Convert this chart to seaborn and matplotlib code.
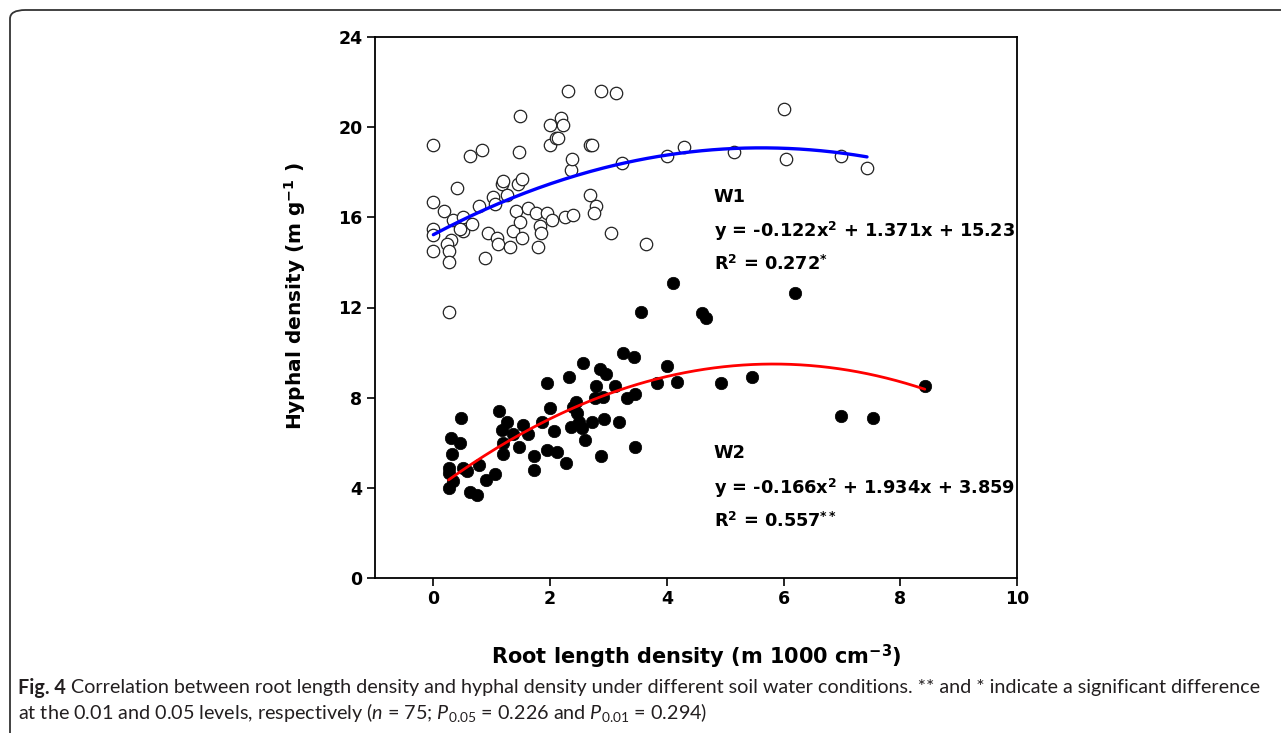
import numpy as np
import pandas as pd
import seaborn as sns
import matplotlib.pyplot as plt
from matplotlib.patches import FancyBboxPatch

# W1 (open circles)
w1_x = [0.00, 0.00, 0.00, 0.00, 0.00, 0.19, 0.31, 0.24, 0.26, 0.26, 0.26, 0.34, 0.41, 0.51, 0.51,
        0.62, 0.67, 0.79, 0.84, 0.89, 0.94, 1.03, 1.05, 1.09, 1.11, 1.18, 1.26, 1.32, 1.36, 1.41,
        1.45, 1.47, 1.49, 1.52, 1.49, 1.52, 1.63, 1.76, 1.80, 1.83, 1.85, 1.95, 1.99, 1.99, 2.04,
        2.10, 2.14, 2.19, 2.22, 2.26, 2.31, 2.36, 2.38, 2.40, 2.69, 2.72, 2.69, 2.79, 2.76, 2.88,
        3.05, 3.13, 3.24, 3.65, 4.00, 4.30, 5.15, 6.00, 6.05, 6.98, 7.43, 0.45, 1.20]
w1_y = [19.2, 16.7, 15.5, 15.2, 14.5, 16.3, 15.0, 14.8, 14.5, 14.0, 11.8, 15.9, 17.3, 16.0, 15.4,
        18.7, 15.7, 16.5, 19.0, 14.2, 15.3, 16.9, 16.6, 15.1, 14.8, 17.5, 17.0, 14.7, 15.4, 16.3,
        17.5, 18.9, 20.5, 17.7, 15.8, 15.1, 16.4, 16.2, 14.7, 15.6, 15.3, 16.2, 20.1, 19.2, 15.9,
        19.5, 19.5, 20.4, 20.1, 16.0, 21.6, 18.1, 18.6, 16.1, 19.2, 19.2, 17.0, 16.5, 16.2, 21.6,
        15.3, 21.5, 18.4, 14.8, 18.7, 19.1, 18.9, 20.8, 18.6, 18.7, 18.2, 15.5, 17.6]

# W2 (filled circles)
w2_x = [0.27, 0.26, 0.27, 0.34, 0.32, 0.31, 0.46, 0.47, 0.51, 0.58, 0.79, 0.62, 0.75, 0.90, 1.06,
        1.13, 1.26, 1.18, 1.20, 1.20, 1.37, 1.54, 1.63, 1.46, 1.72, 1.73, 1.86, 1.95, 1.99, 2.06,
        1.95, 2.12, 2.28, 2.33, 2.40, 2.45, 2.46, 2.49, 2.36, 2.55, 2.60, 2.72, 2.57, 2.85, 2.96,
        2.79, 2.77, 2.90, 3.11, 2.93, 2.88, 3.18, 3.25, 3.44, 3.32, 3.46, 3.46, 3.84, 4.00, 4.18,
        3.56, 4.11, 4.60, 4.67, 6.20, 4.93, 5.46, 8.42, 6.98, 7.53]
w2_y = [4.0, 4.9, 4.65, 4.3, 5.5, 6.2, 6.0, 7.1, 4.9, 4.75, 5.0, 3.8, 3.7, 4.35, 4.6,
        7.4, 6.9, 6.55, 6.0, 5.5, 6.4, 6.8, 6.4, 5.8, 5.4, 4.8, 6.9, 8.65, 7.55, 6.5,
        5.7, 5.6, 5.1, 8.9, 7.6, 7.8, 7.3, 6.9, 6.7, 6.65, 6.1, 6.9, 9.55, 9.25, 9.05,
        8.5, 8.0, 8.05, 8.5, 7.05, 5.4, 6.9, 10.0, 9.8, 8.0, 8.15, 5.8, 8.65, 9.4, 8.7,
        11.8, 13.1, 11.75, 11.55, 12.65, 8.65, 8.9, 8.5, 7.2, 7.1]

# quadratic fits printed on the chart
w1_coef = [-0.122, 1.371, 15.23]
w2_coef = [-0.166, 1.934, 3.859]

sns.set_style("ticks")
plt.rcParams['font.family'] = ['DejaVu Sans']
plt.rcParams['text.color'] = 'black'
plt.rcParams['axes.labelcolor'] = 'black'
plt.rcParams['xtick.color'] = 'black'
plt.rcParams['ytick.color'] = 'black'
plt.rcParams['mathtext.fontset'] = 'custom'
plt.rcParams['mathtext.bf'] = 'DejaVu Sans:bold'
plt.rcParams['mathtext.rm'] = 'Lato'
plt.rcParams['mathtext.it'] = 'Lato:italic'

fig = plt.figure(figsize=(12.81, 7.33), dpi=100)
ax = fig.add_axes([375 / 1281, 1 - 578 / 733, 642 / 1281, 541 / 733])

df1 = pd.DataFrame({'x': w1_x, 'y': w1_y})
df2 = pd.DataFrame({'x': w2_x, 'y': w2_y})

sns.scatterplot(data=df1, x='x', y='y', ax=ax, s=80, color='white', edgecolor='#222222',
                linewidth=0.9, zorder=3)
sns.scatterplot(data=df2, x='x', y='y', ax=ax, s=80, color='black', edgecolor='black',
                linewidth=0.5, zorder=3)

xf1 = np.linspace(min(w1_x), max(w1_x), 200)
xf2 = np.linspace(min(w2_x), max(w2_x), 200)
sns.lineplot(x=xf1, y=np.polyval(w1_coef, xf1), ax=ax, color='#0000ff', lw=2.4, zorder=4)
sns.lineplot(x=xf2, y=np.polyval(w2_coef, xf2), ax=ax, color='#ff0000', lw=2.0, zorder=4)

ax.set_xlim(-1, 10)
ax.set_ylim(0, 24)
ax.set_xticks([0, 2, 4, 6, 8, 10])
ax.set_yticks([0, 4, 8, 12, 16, 20, 24])
for s in ax.spines.values():
    s.set_linewidth(1.3)
    s.set_color('black')
ax.tick_params(direction='out', length=6, width=1.2, labelsize=12.5, pad=3)
for lab in ax.get_xticklabels() + ax.get_yticklabels():
    lab.set_fontweight('bold')

ax.set_ylabel(r'Hyphal density (m g$^{\mathbf{-1}}$ )', fontsize=14.5, fontweight='bold')
ax.yaxis.set_label_coords(-0.105, 0.52)
ax.set_xlabel(r'Root length density (m 1000 cm$^{\mathbf{-3}}$)', fontsize=15, fontweight='bold')
ax.xaxis.set_label_coords(0.5, -0.12)

tkw = dict(fontsize=12.8, fontweight='bold', ha='left', va='center')
ax.text(4.8, 16.9, 'W1', **tkw)
ax.text(4.8, 15.4, r'y = -0.122x$^{\mathbf{2}}$ + 1.371x + 15.23', **tkw)
ax.text(4.8, 13.9, r'R$^{\mathbf{2}}$ = 0.272$^{\mathbf{*}}$', **tkw)
ax.text(4.8, 5.55, 'W2', **tkw)
ax.text(4.8, 4.0, r'y = -0.166x$^{\mathbf{2}}$ + 1.934x + 3.859', **tkw)
ax.text(4.8, 2.5, r'R$^{\mathbf{2}}$ = 0.557$^{\mathbf{**}}$', **tkw)

# outer frame
frame = FancyBboxPatch((10 / 1281, 1 - 1000 / 733), 1400 / 1281, 990 / 733,
                       boxstyle='round,pad=0,rounding_size=0.012', transform=fig.transFigure,
                       fill=False, edgecolor='#333333', linewidth=1.3)
fig.add_artist(frame)

cap_color = '#231f20'
cap_size = 14.2
t0 = fig.text(18 / 1281, 1 - 688 / 733, 'Fig. 4', fontsize=cap_size, fontweight='bold',
              family='Lato', color=cap_color, va='center')
ax.annotate(' Correlation between root length density and hyphal density under different soil '
            'water conditions. ** and * indicate a significant difference',
            xy=(1, 0.5), xycoords=t0, va='center', ha='left', fontsize=cap_size, family='Lato',
            color=cap_color, annotation_clip=False)
fig.text(18 / 1281, 1 - 713 / 733,
         r'at the 0.01 and 0.05 levels, respectively ($\mathit{n}$ = 75; $\mathit{P}_{\mathrm{0.05}}$'
         r' = 0.226 and $\mathit{P}_{\mathrm{0.01}}$ = 0.294)',
         fontsize=cap_size, family='Lato', color=cap_color, va='center')

fig.savefig('out.png', dpi=100)
